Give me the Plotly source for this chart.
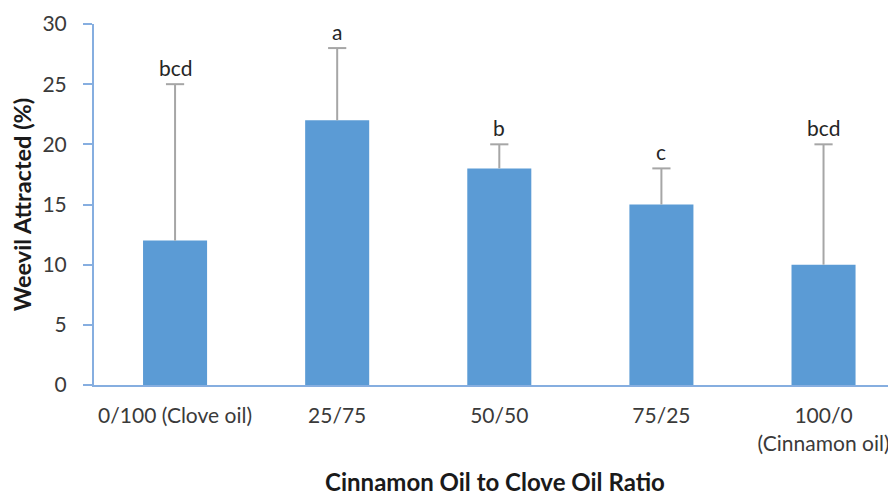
import plotly.graph_objects as go

categories = ["0/100 (Clove oil)", "25/75", "50/50", "75/25", "100/0<br>(Cinnamon oil)"]
values = [12, 22, 18, 15, 10]
errors_up = [13, 6, 2, 3, 10]
letters = ["bcd", "a", "b", "c", "bcd"]
y_ticks = [0, 5, 10, 15, 20, 25, 30]

FONT = "Lato"
TXT = "#3a3a3a"
ERR = "#a6a6a6"
xs = list(range(len(categories)))

fig = go.Figure()
fig.add_trace(go.Bar(
    x=xs,
    y=values,
    marker=dict(color="#5B9BD5", line=dict(width=0)),
    error_y=dict(type="data", symmetric=False, array=errors_up,
                 arrayminus=[0] * len(values), color=ERR,
                 thickness=2, width=0),
    showlegend=False, hoverinfo="skip",
))
# caps of the error bars
fig.add_trace(go.Scatter(
    x=xs, y=[v + e for v, e in zip(values, errors_up)],
    mode="markers",
    marker=dict(symbol="line-ew", size=13, color=ERR,
                line=dict(color=ERR, width=2)),
    showlegend=False, hoverinfo="skip",
))

for i, (v, e, t) in enumerate(zip(values, errors_up, letters)):
    fig.add_annotation(x=i, y=v + e, text=t, showarrow=False,
                       yanchor="bottom", yshift=2,
                       font=dict(family=FONT, size=21, color="#262626"))

fig.update_layout(
    width=888, height=488,
    margin=dict(l=86, r=0, t=16, b=111),
    paper_bgcolor="white", plot_bgcolor="white",
    bargap=0.605,
    font=dict(family=FONT, size=21, color=TXT),
)
fig.update_xaxes(
    range=[-0.5, 4.447],
    tickmode="array", tickvals=xs, ticktext=categories,
    showline=True, linecolor="#86aee0", linewidth=2,
    ticks="", showgrid=False, zeroline=False,
    ticklabelstandoff=11,
    tickfont=dict(family=FONT, size=21, color=TXT),
    title=dict(text="<b>Cinnamon Oil to Clove Oil Ratio</b>", standoff=23,
               font=dict(family=FONT, size=24, color="#1a1a1a")),
    automargin=False,
)
fig.update_yaxes(
    range=[0, 30],
    tickmode="array", tickvals=y_ticks,
    showline=True, linecolor="#86aee0", linewidth=2,
    ticks="outside", ticklen=9, tickcolor="#86aee0", tickwidth=2,
    ticklabelstandoff=12,
    showgrid=False, zeroline=False,
    tickfont=dict(family=FONT, size=21, color=TXT),
    title=dict(text="<b>Weevil Attracted (%)</b>", standoff=10,
               font=dict(family=FONT, size=23.5, color="#1a1a1a")),
    automargin=False,
)

fig.write_html("out.html")
